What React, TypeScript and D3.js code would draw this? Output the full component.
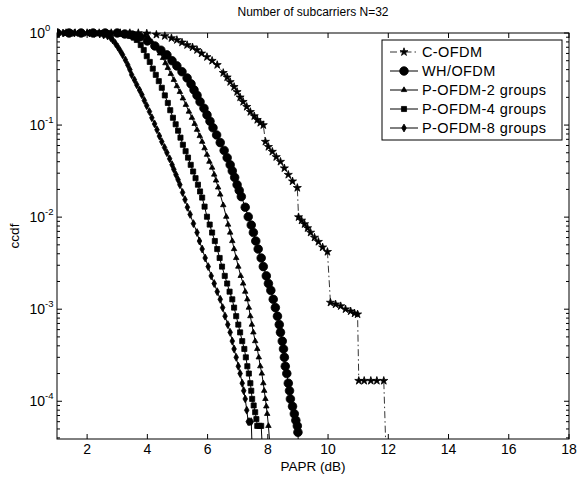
import React from 'react';
import * as d3 from 'd3';

const W = 579;
const H = 485;
const plot = { left: 57, right: 569, top: 33, bottom: 439 };

// axis ticks
const xTicks = [2, 4, 6, 8, 10, 12, 14, 16, 18];
const yExponents = [0, -1, -2, -3, -4];

const names = ['C-OFDM', 'WH/OFDM', 'P-OFDM-2 groups', 'P-OFDM-4 groups', 'P-OFDM-8 groups'];

// [PAPR dB, ccdf]
const cOfdm: [number, number][] = [
  [1.0, 1], [1.3, 1], [1.6, 1], [2.0, 1], [2.4, 1], [2.8, 1], [3.1, 1], [3.42, 1], [3.7, 1], [3.98, 0.99],
  [4.3, 0.96], [4.58, 0.928], [4.8, 0.88], [4.98, 0.84], [5.15, 0.79], [5.32, 0.741], [5.5, 0.7], [5.65, 0.654],
  [5.8, 0.6], [5.98, 0.549], [6.15, 0.5], [6.32, 0.45], [6.52, 0.369], [6.65, 0.33], [6.75, 0.294],
  [6.88, 0.26], [6.98, 0.229], [7.08, 0.2], [7.18, 0.179], [7.3, 0.158], [7.42, 0.139], [7.55, 0.125],
  [7.65, 0.114], [7.75, 0.106], [7.85, 0.1], [7.92, 0.066], [8.02, 0.058], [8.15, 0.0514], [8.28, 0.045],
  [8.42, 0.04], [8.55, 0.034], [8.68, 0.0289], [8.82, 0.0245], [8.98, 0.0208], [9.02, 0.01], [9.12, 0.0092],
  [9.22, 0.0084], [9.32, 0.0076], [9.42, 0.0068], [9.55, 0.006], [9.68, 0.0054], [9.82, 0.0047], [9.98, 0.0042],
  [10.08, 0.00118], [10.25, 0.00113], [10.42, 0.00108], [10.58, 0.001], [10.75, 0.00095], [10.88, 0.0009],
  [10.98, 0.00088], [11.02, 0.000167], [11.2, 0.000167], [11.42, 0.000167], [11.62, 0.000167], [11.85, 0.000167],
  [11.92, 3e-5],
];

const whOfdm: [number, number][] = [
  [1.0, 1], [1.4, 1], [1.8, 1], [2.2, 1], [2.6, 1], [3.0, 1], [3.25, 0.975], [3.5, 0.95], [3.75, 0.905],
  [4.0, 0.82], [4.25, 0.723], [4.45, 0.65], [4.65, 0.578], [4.82, 0.5], [4.98, 0.439], [5.15, 0.38],
  [5.32, 0.325], [5.45, 0.28], [5.55, 0.241], [5.65, 0.21], [5.75, 0.179], [5.88, 0.152], [5.98, 0.129],
  [6.08, 0.11], [6.18, 0.0934], [6.3, 0.078], [6.42, 0.0645], [6.55, 0.053], [6.65, 0.0442], [6.75, 0.037],
  [6.82, 0.0318], [6.9, 0.027], [6.98, 0.0225], [7.05, 0.0195], [7.12, 0.0167], [7.25, 0.0128],
  [7.35, 0.0101], [7.45, 0.0082], [7.52, 0.0068], [7.6, 0.0055], [7.68, 0.0045], [7.78, 0.0036],
  [7.85, 0.0029], [7.95, 0.0023], [8.02, 0.0019], [8.1, 0.0016], [8.18, 0.00128], [8.25, 0.00104],
  [8.32, 0.00084], [8.38, 0.00068], [8.42, 0.00056], [8.48, 0.00045], [8.52, 0.00037], [8.55, 0.0003],
  [8.58, 0.00024], [8.63, 0.0002], [8.68, 0.000157], [8.72, 0.00013], [8.75, 0.000106], [8.82, 8.8e-5],
  [8.88, 7.3e-5], [8.93, 6.2e-5], [8.98, 5.4e-5], [9.0, 4.6e-5], [9.02, 3e-5],
];

const pOfdm2: [number, number][] = [
  [1.0, 1], [1.5, 1], [2.0, 1], [2.5, 1], [3.0, 1], [3.4, 1], [3.7, 0.98], [3.92, 0.928], [4.05, 0.87],
  [4.15, 0.799], [4.32, 0.688], [4.42, 0.6], [4.52, 0.536], [4.6, 0.47], [4.68, 0.418], [4.78, 0.36],
  [4.88, 0.31], [4.98, 0.265], [5.08, 0.229], [5.18, 0.195], [5.28, 0.166], [5.38, 0.14], [5.48, 0.12],
  [5.57, 0.103], [5.65, 0.0889], [5.74, 0.076], [5.82, 0.0659], [5.9, 0.056], [5.98, 0.0476], [6.06, 0.04],
  [6.15, 0.0345], [6.22, 0.029], [6.28, 0.025], [6.35, 0.021], [6.42, 0.0176], [6.52, 0.0135],
  [6.62, 0.0101], [6.68, 0.0083], [6.75, 0.0068], [6.82, 0.0055], [6.88, 0.0045], [6.95, 0.0036],
  [7.02, 0.0029], [7.1, 0.0023], [7.18, 0.0019], [7.25, 0.00155], [7.32, 0.00128], [7.37, 0.00104],
  [7.42, 0.00084], [7.47, 0.00068], [7.52, 0.00056], [7.58, 0.00045], [7.65, 0.00037], [7.7, 0.0003],
  [7.75, 0.00024], [7.8, 0.0002], [7.85, 0.000157], [7.88, 0.00013], [7.92, 0.000106], [7.95, 8.8e-5],
  [7.98, 7.3e-5], [8.02, 5.4e-5], [8.08, 3e-5],
];

const pOfdm4: [number, number][] = [
  [1.0, 1], [1.3, 1], [1.75, 1], [2.1, 1], [2.42, 1], [2.75, 1], [3.08, 0.975], [3.25, 0.96], [3.42, 0.928],
  [3.55, 0.89], [3.65, 0.84], [3.78, 0.74], [3.88, 0.654], [3.98, 0.56], [4.08, 0.485], [4.18, 0.41],
  [4.28, 0.351], [4.38, 0.3], [4.48, 0.254], [4.58, 0.21], [4.68, 0.174], [4.76, 0.145], [4.85, 0.12],
  [4.94, 0.102], [5.02, 0.0869], [5.1, 0.073], [5.18, 0.0611], [5.27, 0.052], [5.35, 0.0443], [5.44, 0.037],
  [5.52, 0.0313], [5.6, 0.0265], [5.68, 0.0225], [5.75, 0.019], [5.82, 0.0163], [5.9, 0.013],
  [5.98, 0.0101], [6.07, 0.0083], [6.15, 0.0068], [6.24, 0.0055], [6.32, 0.0045], [6.4, 0.0036],
  [6.48, 0.0029], [6.57, 0.0023], [6.65, 0.0019], [6.73, 0.00155], [6.82, 0.00128], [6.88, 0.00104],
  [6.95, 0.00084], [7.02, 0.00068], [7.08, 0.00056], [7.15, 0.00045], [7.22, 0.00037], [7.27, 0.0003],
  [7.32, 0.00024], [7.37, 0.0002], [7.42, 0.000157], [7.45, 0.00013], [7.48, 0.000106], [7.53, 9e-5],
  [7.58, 7.6e-5], [7.62, 6.4e-5], [7.65, 5.4e-5], [7.72, 5.4e-5], [7.78, 5.4e-5], [7.82, 3e-5],
];

const pOfdm8: [number, number][] = [
  [1.0, 1], [1.2, 1], [1.4, 1], [1.58, 1], [1.8, 1], [2.08, 1], [2.25, 0.99], [2.42, 0.975], [2.55, 0.95],
  [2.68, 0.928], [2.78, 0.89], [2.85, 0.84], [2.94, 0.77], [3.02, 0.705], [3.1, 0.64], [3.18, 0.578],
  [3.27, 0.51], [3.35, 0.45], [3.42, 0.4], [3.48, 0.351], [3.57, 0.31], [3.65, 0.273], [3.74, 0.24],
  [3.82, 0.213], [3.9, 0.185], [3.98, 0.162], [4.07, 0.14], [4.15, 0.12], [4.24, 0.103], [4.32, 0.0889],
  [4.4, 0.076], [4.48, 0.0659], [4.57, 0.057], [4.65, 0.0501], [4.74, 0.043], [4.82, 0.0371],
  [4.88, 0.033], [4.95, 0.0289], [5.02, 0.0255], [5.08, 0.0225], [5.17, 0.0185], [5.25, 0.0155],
  [5.33, 0.0128], [5.42, 0.0107], [5.53, 0.0085], [5.65, 0.0068], [5.73, 0.0055], [5.82, 0.0045],
  [5.92, 0.0036], [6.02, 0.0029], [6.12, 0.0023], [6.22, 0.0019], [6.32, 0.00155], [6.42, 0.00128],
  [6.5, 0.00104], [6.58, 0.00084], [6.67, 0.00068], [6.75, 0.00056], [6.82, 0.00045], [6.88, 0.00037],
  [6.95, 0.0003], [7.02, 0.00024], [7.08, 0.0002], [7.15, 0.000157], [7.2, 0.00013], [7.25, 0.000106],
  [7.3, 8e-5], [7.35, 6e-5], [7.4, 6e-5], [7.45, 6e-5], [7.48, 3e-5],
];

const allSeries = [cOfdm, whOfdm, pOfdm2, pOfdm4, pOfdm8];

const styles = [
  { symbol: d3.symbolStar, size: 20, dash: '7,3,1.5,3', width: 0.8 },
  { symbol: d3.symbolCircle, size: 58, dash: null, width: 1 },
  { symbol: d3.symbolTriangle, size: 13, dash: null, width: 1 },
  { symbol: d3.symbolSquare, size: 26, dash: null, width: 1 },
  { symbol: d3.symbolDiamond, size: 18, dash: null, width: 1 },
];

const FONT = '"Liberation Sans", Arial, Helvetica, sans-serif';

export default function App() {
  const x = d3.scaleLinear().domain([1, 18]).range([plot.left, plot.right]);
  const y = d3.scaleLog().domain([Math.pow(10, -4.41), 1]).range([plot.bottom, plot.top]);

  const line = d3.line<[number, number]>()
    .x(d => x(d[0]))
    .y(d => y(d[1]));

  // minor log ticks
  const minor: number[] = [];
  for (let e = -5; e < 0; e++) {
    for (let m = 2; m <= 9; m++) {
      const v = m * Math.pow(10, e);
      if (v >= y.domain()[0] && v < 1) minor.push(v);
    }
  }

  const legend = { x: 382, y: 40, w: 180, h: 100 };

  return (
    <svg width={W} height={H} style={{ position: 'absolute', left: 0, top: 0, background: '#fff' }}
      fontFamily={FONT}>
      <rect x={0} y={0} width={W} height={H} fill="#fff" />
      <defs>
        <clipPath id="plotclip">
          <rect x={plot.left} y={plot.top - 6} width={plot.right - plot.left} height={plot.bottom - plot.top + 6} />
        </clipPath>
      </defs>

      {/* axes box */}
      <rect x={plot.left} y={plot.top} width={plot.right - plot.left} height={plot.bottom - plot.top}
        fill="none" stroke="#000" strokeWidth={1} />

      {xTicks.map(t => (
        <g key={'xt' + t}>
          <line x1={x(t)} x2={x(t)} y1={plot.bottom} y2={plot.bottom - 5} stroke="#000" />
          <line x1={x(t)} x2={x(t)} y1={plot.top} y2={plot.top + 5} stroke="#000" />
          <text x={x(t)} y={plot.bottom + 15} fontSize={14} textAnchor="middle">{t}</text>
        </g>
      ))}

      {yExponents.map(e => {
        const yy = y(Math.pow(10, e));
        return (
          <g key={'yt' + e}>
            <line x1={plot.left} x2={plot.left + 5} y1={yy} y2={yy} stroke="#000" />
            <line x1={plot.right} x2={plot.right - 5} y1={yy} y2={yy} stroke="#000" />
            <text x={plot.left - 12} y={yy + 5} fontSize={14} textAnchor="end">10</text>
            <text x={plot.left - 12} y={yy - 2} fontSize={9.5} textAnchor="start">{e === 0 ? '0' : '-' + (-e)}</text>
          </g>
        );
      })}

      {minor.map((v, i) => (
        <g key={'mn' + i}>
          <line x1={plot.left} x2={plot.left + 3} y1={y(v)} y2={y(v)} stroke="#000" />
          <line x1={plot.right} x2={plot.right - 3} y1={y(v)} y2={y(v)} stroke="#000" />
        </g>
      ))}

      <g clipPath="url(#plotclip)">
        {allSeries.map((s, i) => (
          <path key={'l' + i} d={line(s) || ''} fill="none" stroke="#000"
            strokeWidth={styles[i].width} strokeDasharray={styles[i].dash || undefined} />
        ))}
        {allSeries.map((s, i) => {
          const sym = d3.symbol().type(styles[i].symbol).size(styles[i].size)();
          return (
            <g key={'m' + i}>
              {s.map((d, j) => (
                <path key={j} d={sym || ''} transform={`translate(${x(d[0])},${y(Math.max(d[1], 1e-6))})`}
                  fill="#000" stroke="#000" strokeWidth={0.8} />
              ))}
            </g>
          );
        })}
      </g>

      {/* legend */}
      <rect x={legend.x} y={legend.y} width={legend.w} height={legend.h} fill="#fff" stroke="#000" strokeWidth={1} />
      {names.map((n, i) => {
        const ly = legend.y + 12 + i * 19;
        const sym = d3.symbol().type(styles[i].symbol).size(styles[i].size)();
        return (
          <g key={'lg' + i}>
            <line x1={legend.x + 8} x2={legend.x + 36} y1={ly} y2={ly} stroke="#000"
              strokeWidth={styles[i].width} strokeDasharray={styles[i].dash || undefined} />
            <path d={sym || ''} transform={`translate(${legend.x + 22},${ly})`} fill="#000" stroke="#000" strokeWidth={0.8} />
            <text x={legend.x + 40} y={ly + 5} fontSize={14.5} letterSpacing={0.4}>{n}</text>
          </g>
        );
      })}

      <text x={(plot.left + plot.right) / 2} y={16} fontSize={12} textAnchor="middle">Number of subcarriers N=32</text>
      <text x={(plot.left + plot.right) / 2} y={471} fontSize={13.5} textAnchor="middle">PAPR (dB)</text>
      <text transform={`translate(19,${(plot.top + plot.bottom) / 2}) rotate(-90)`} fontSize={13.5} textAnchor="middle">ccdf</text>
    </svg>
  );
}
